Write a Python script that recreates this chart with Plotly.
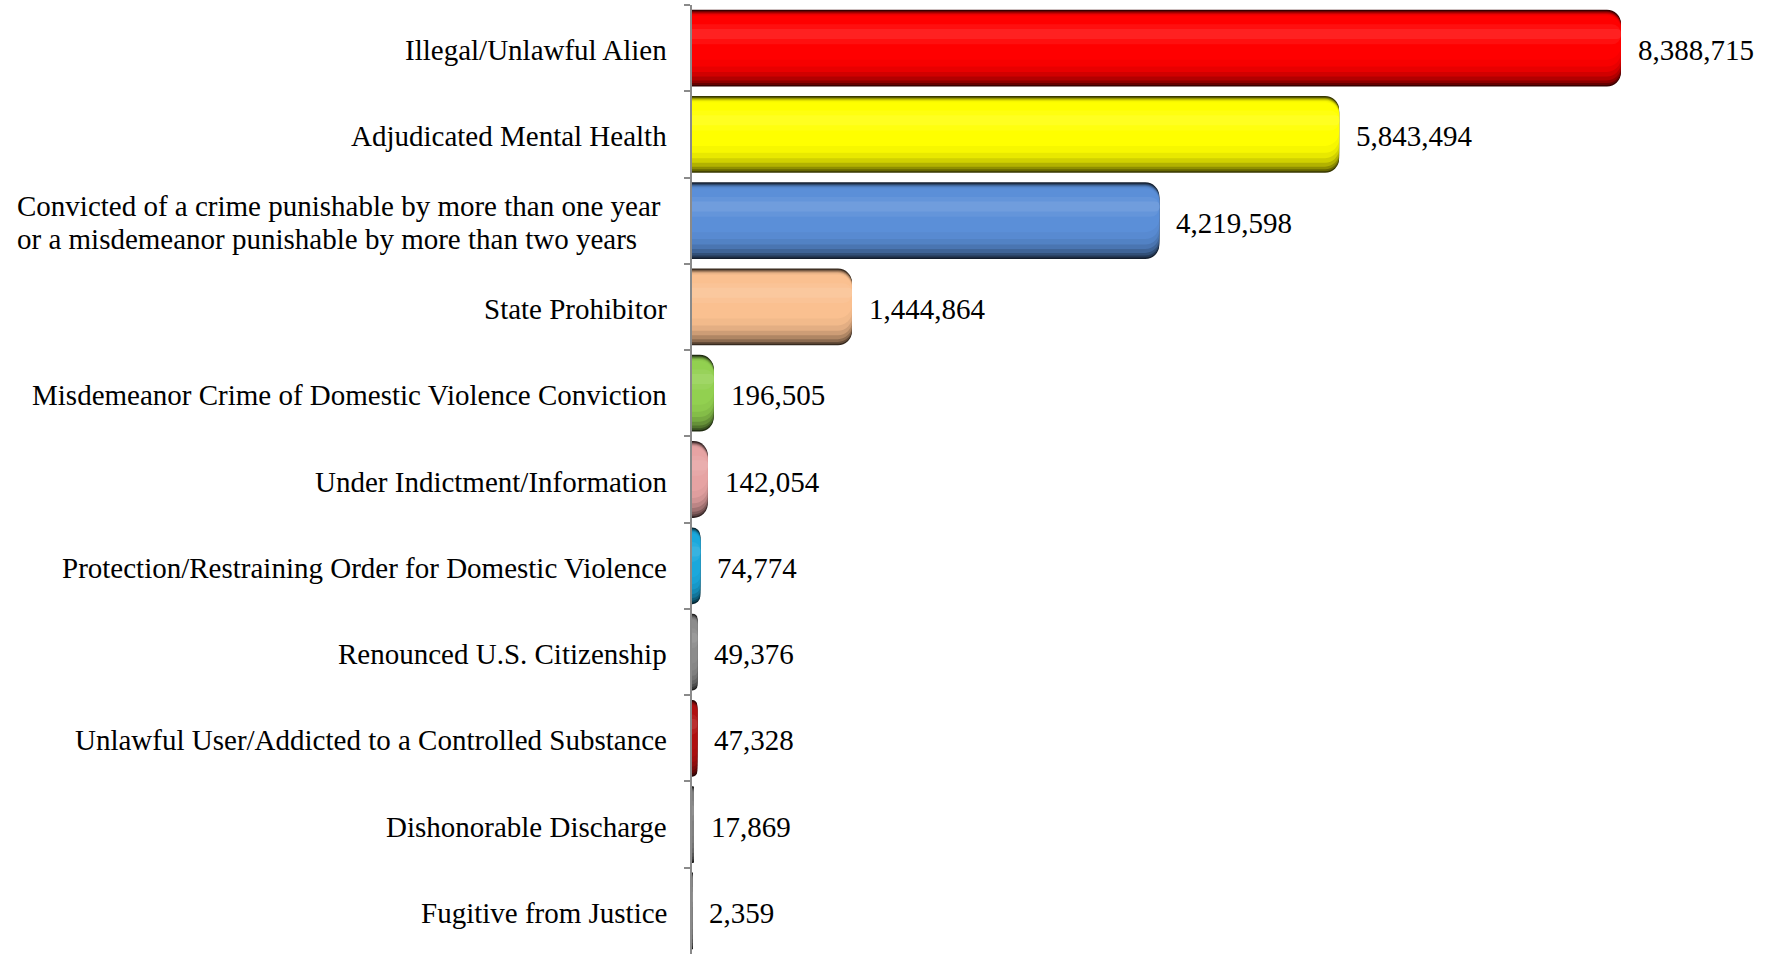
import plotly.graph_objects as go

categories = [
    "Illegal/Unlawful Alien",
    "Adjudicated Mental Health",
    "Convicted of a crime punishable by more than one year<br>or a misdemeanor punishable by more than two years",
    "State Prohibitor",
    "Misdemeanor Crime of Domestic Violence Conviction",
    "Under Indictment/Information",
    "Protection/Restraining Order for Domestic Violence",
    "Renounced U.S. Citizenship",
    "Unlawful User/Addicted to a Controlled Substance",
    "Dishonorable Discharge",
    "Fugitive from Justice",
]
values = [8388715, 5843494, 4219598, 1444864, 196505, 142054, 74774, 49376, 47328, 17869, 2359]
colors = ["#FF0000", "#FFFF00", "#5B8FD8", "#FAC090", "#92D050", "#E6A3A3",
          "#1AA8DC", "#8C8C8C", "#B01010", "#7F7F7F", "#7F7F7F"]

FONT = "Liberation Serif"
FS = 29


def hex2rgb(h):
    h = h.lstrip("#")
    return tuple(int(h[i:i + 2], 16) for i in (0, 2, 4))


def shade(h, f):
    r, g, b = hex2rgb(h)
    return "rgb(%d,%d,%d)" % (r * f, g * f, b * f)


def tint(h, f):
    r, g, b = hex2rgb(h)
    return "rgb(%d,%d,%d)" % (r + (255 - r) * f, g + (255 - g) * f, b + (255 - b) * f)


fig = go.Figure()

BW = 0.89  # bar thickness in category units
# nested bands (top fraction, bottom fraction, shading) to mimic a glossy cylinder
layers = [
    (0.000, 1.000, ("s", 0.22)),
    (0.015, 0.980, ("s", 0.40)),
    (0.025, 0.955, ("s", 0.56)),
    (0.035, 0.920, ("s", 0.70)),
    (0.045, 0.870, ("s", 0.82)),
    (0.055, 0.810, ("s", 0.91)),
    (0.065, 0.740, ("s", 0.97)),
    (0.080, 0.650, ("s", 1.00)),
    (0.190, 0.450, ("t", 0.06)),
    (0.250, 0.380, ("t", 0.13)),
]
for a, b, (kind, f) in layers:
    cols = [shade(c, f) if kind == "s" else tint(c, f) for c in colors]
    fig.add_trace(go.Bar(
        x=values, y=categories, orientation="h",
        marker=dict(color=cols, line=dict(width=0)),
        offset=-BW / 2 + a * BW, width=(b - a) * BW,
        hoverinfo="skip", showlegend=False,
    ))

# value labels
for v, c in zip(values, categories):
    fig.add_annotation(x=v, y=c, text=f"{v:,}", showarrow=False,
                       xanchor="left", yanchor="middle", xshift=15, yshift=-2,
                       font=dict(family=FONT, size=FS, color="black"))

# category labels (left-aligned lines, tight line spacing)
LINE = 33
for c in categories:
    lines = c.split("<br>")
    n = len(lines)
    for i, ln in enumerate(lines):
        fig.add_annotation(xref="paper", x=0, y=c, yref="y", text=ln,
                           showarrow=False, xanchor="right" if n == 1 else "left",
                           yanchor="middle",
                           xshift=-23 if n == 1 else -677,
                           yshift=-2 + ((n - 1) / 2 - i) * LINE,
                           font=dict(family=FONT, size=FS, color="black"))

fig.update_layout(
    width=1785, height=954,
    margin=dict(l=692, r=0, t=5, b=0),
    paper_bgcolor="white", plot_bgcolor="white",
    barmode="overlay", barcornerradius=14,
    font=dict(family=FONT, size=FS, color="black"),
    xaxis=dict(range=[0, 9.87e6], showgrid=False, zeroline=False,
               showticklabels=False, showline=False, ticks=""),
    yaxis=dict(autorange="reversed", showgrid=False, zeroline=False,
               showline=True, linecolor="#8A8A8A", linewidth=2,
               ticks="outside", ticklen=6, tickcolor="#8A8A8A", tickwidth=2,
               tickson="boundaries", showticklabels=False),
)

fig.write_html("out.html")
